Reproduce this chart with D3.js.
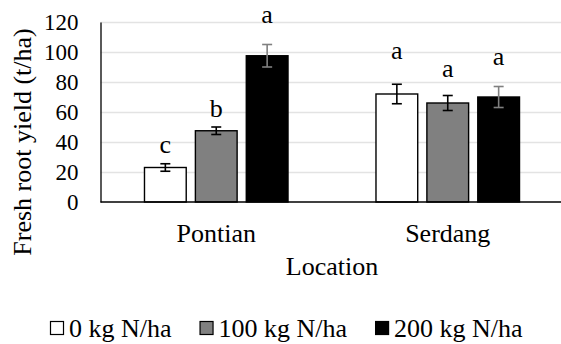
<!DOCTYPE html>
<html>
<head>
<meta charset="utf-8">
<script src="https://cdn.jsdelivr.net/npm/d3@7"></script>
<style>
  html, body { margin: 0; padding: 0; background: #fff; }
  svg { display: block; }
</style>
</head>
<body>
<svg id="chart" width="561" height="344"></svg>
<script>
// ---- data ----
const locations = ["Pontian", "Serdang"];
const series = ["0 kg N/ha", "100 kg N/ha", "200 kg N/ha"];
const values = [
  [23, 47.5, 97.5],   // Pontian
  [72, 66, 70]        // Serdang
];
const errors = [
  [2.5, 2.5, 7.5],
  [6.5, 5, 7]
];
const letters = [
  ["c", "b", "a"],
  ["a", "a", "a"]
];
// letter baseline heights (t/ha units) as placed in the picture
const letterAt = [
  [32.5, 56.5, 119.3],
  [95.1, 83.5, 91.3]
];
const yTicks = [0, 20, 40, 60, 80, 100, 120];
const fills = ["#ffffff", "#808080", "#000000"];
const errColors = ["#000000", "#000000", "#808080"];

// ---- layout ----
const FONT = "'Liberation Serif', 'Times New Roman', Times, serif";
const svg = d3.select("#chart");
const mLeft = 100.5, mRight = 563.5, mTop = 22, mBottom = 202;

const y = d3.scaleLinear().domain([0, 120]).range([mBottom, mTop]);
const x0 = d3.scaleBand().domain(locations).range([mLeft, mRight])
  .paddingInner(0.38).paddingOuter(0.19);
const x1 = d3.scaleBand().domain(series).range([0, x0.bandwidth()]).paddingInner(0.18);

// gridlines
svg.append("g").selectAll("line").data(yTicks.filter(d => d > 0)).join("line")
  .attr("x1", mLeft).attr("x2", mRight)
  .attr("y1", d => Math.round(y(d)) + 0.5).attr("y2", d => Math.round(y(d)) + 0.5)
  .attr("stroke", "#e3e3e3").attr("stroke-width", 1.3);

// bars
const groups = svg.append("g").selectAll("g").data(locations).join("g")
  .attr("transform", d => `translate(${x0(d)},0)`);

groups.each(function(loc, i) {
  const g = d3.select(this);
  series.forEach((s, j) => {
    const v = values[i][j];
    g.append("rect")
      .attr("x", x1(s)).attr("width", x1.bandwidth())
      .attr("y", y(v)).attr("height", y(0) - y(v))
      .attr("fill", fills[j]).attr("stroke", "#000").attr("stroke-width", 1.4);
    const cx = x1(s) + x1.bandwidth() / 2;
    const e = errors[i][j];
    const eg = g.append("g").attr("stroke", errColors[j]).attr("stroke-width", 1.6);
    eg.append("line").attr("x1", cx).attr("x2", cx).attr("y1", y(v + e)).attr("y2", y(v - e));
    eg.append("line").attr("x1", cx - 5).attr("x2", cx + 5).attr("y1", y(v + e)).attr("y2", y(v + e));
    eg.append("line").attr("x1", cx - 5).attr("x2", cx + 5).attr("y1", y(v - e)).attr("y2", y(v - e));
    g.append("text")
      .attr("x", cx).attr("y", y(letterAt[i][j]))
      .attr("text-anchor", "middle")
      .style("font-family", FONT).style("font-size", "26px").style("fill", "#000")
      .text(letters[i][j]);
  });
});

// y axis
const yAxis = svg.append("g").attr("transform", `translate(${mLeft},0)`)
  .call(d3.axisLeft(y).tickValues(yTicks).tickSize(0).tickPadding(22));
yAxis.select(".domain").attr("stroke", "#000").attr("stroke-width", 1.3);
yAxis.selectAll("text")
  .style("font-family", FONT).style("font-size", "23px").style("fill", "#000");

// x axis line
svg.append("line").attr("x1", mLeft).attr("x2", mRight)
  .attr("y1", mBottom).attr("y2", mBottom)
  .attr("stroke", "#000").attr("stroke-width", 1.5);

// category labels
svg.append("g").selectAll("text").data(locations).join("text")
  .attr("x", d => x0(d) + x0.bandwidth() / 2).attr("y", 241.5)
  .attr("text-anchor", "middle")
  .style("font-family", FONT).style("font-size", "26px").style("fill", "#000")
  .text(d => d);

// axis titles
svg.append("text").attr("x", (mLeft + mRight) / 2).attr("y", 275)
  .attr("text-anchor", "middle")
  .style("font-family", FONT).style("font-size", "26px").style("fill", "#000")
  .text("Location");
svg.append("text").attr("transform", "translate(31,142) rotate(-90)")
  .attr("text-anchor", "middle")
  .style("font-family", FONT).style("font-size", "26px").style("fill", "#000")
  .text("Fresh root yield (t/ha)");

// legend
const legend = svg.append("g");
let lx = 50;
series.forEach((s, j) => {
  legend.append("rect").attr("x", lx + 0.5).attr("y", 321.5).attr("width", 13).attr("height", 13)
    .attr("fill", fills[j]).attr("stroke", "#000").attr("stroke-width", 1.2);
  const t = legend.append("text").attr("x", lx + 19).attr("y", 337)
    .style("font-family", FONT).style("font-size", "26px").style("fill", "#000")
    .text(s);
  lx = lx + 19 + t.node().getComputedTextLength() + 28;
});
</script>
</body>
</html>
